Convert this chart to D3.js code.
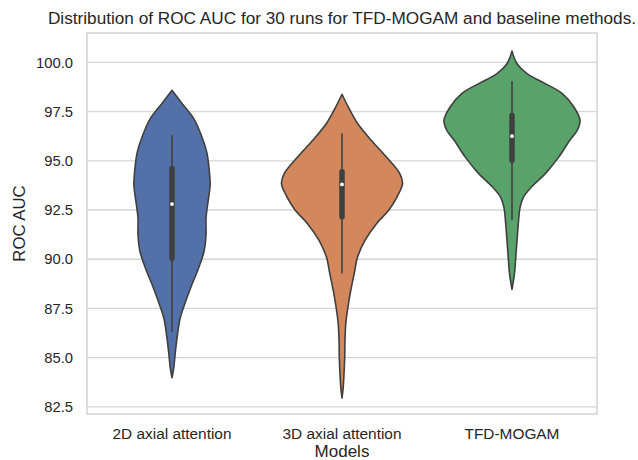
<!DOCTYPE html>
<html>
<head>
<meta charset="utf-8">
<script src="https://cdn.jsdelivr.net/npm/d3@7"></script>
<style>
  body { margin: 0; background: #fff; }
  text { font-family: "Liberation Sans", Arial, sans-serif; fill: #262626; }
</style>
</head>
<body>
<script>
// categories + colours
var models = ["2D axial attention", "3D axial attention", "TFD-MOGAM"];
var colors = ["#5371a8", "#d2885c", "#59a36b"];
var yTicks = [82.5, 85.0, 87.5, 90.0, 92.5, 95.0, 97.5, 100.0];

// kde profiles: [ROC AUC, relative density]
var kde2d = [[98.58,0],[97.99,0.13],[97.14,0.32],[96.3,0.43],[95.45,0.51],[94.44,0.55],[93.76,0.56],
  [92.92,0.53],[92.07,0.50],[91.23,0.50],[90.38,0.47],[89.54,0.39],[88.69,0.29],[87.85,0.20],
  [87.0,0.12],[86.16,0.08],[85.3,0.05],[84.47,0.025],[83.98,0]];
var kde3d = [[98.38,0],[97.73,0.093],[96.89,0.23],[96.04,0.43],[95.2,0.65],[94.35,0.85],[93.85,0.89],
  [93.17,0.81],[92.5,0.69],[91.82,0.51],[90.97,0.34],[90.13,0.23],[89.28,0.18],[88.44,0.13],
  [87.59,0.088],[86.75,0.056],[85.9,0.044],[85.06,0.04],[84.21,0.03],[83.37,0.015],[82.95,0]];
var kdeTfd = [[100.57,0],[99.93,0.074],[99.43,0.22],[98.92,0.49],[98.41,0.74],[97.73,0.91],[97.06,1.0],
  [96.55,0.96],[96.04,0.85],[95.2,0.69],[94.35,0.49],[93.68,0.29],[93.17,0.17],[92.66,0.12],
  [91.82,0.093],[90.97,0.074],[90.13,0.056],[89.28,0.037],[88.47,0]];
var profiles = [kde2d, kde3d, kdeTfd];

// box stats: whisker low, q1, median, q3, whisker high
var whiskLo = [86.32, 89.28, 91.99];
var q1 = [90.05, 92.16, 95.03];
var medians = [92.80, 93.80, 96.25];
var q3 = [94.61, 94.44, 97.31];
var whiskHi = [96.30, 96.38, 99.05];

var W = 638, H = 460;
var margin = {top: 33, right: 41, bottom: 46, left: 87};
var iw = W - margin.left - margin.right, ih = H - margin.top - margin.bottom;

var svg = d3.select("body").append("svg").attr("width", W).attr("height", H);
var g = svg.append("g").attr("transform", "translate(" + margin.left + "," + margin.top + ")");

var x = d3.scaleBand().domain(models).range([0, iw]).padding(0);
var y = d3.scaleLinear().domain([82.14, 101.49]).range([ih, 0]);
var wScale = d3.scaleLinear().domain([0, 1]).range([0, x.bandwidth() * 0.4]);

// grid
g.selectAll("line.grid").data(yTicks).enter().append("line")
  .attr("class", "grid")
  .attr("x1", 0).attr("x2", iw)
  .attr("y1", function(d) { return y(d); }).attr("y2", function(d) { return y(d); })
  .attr("stroke", "#d6d6d6").attr("stroke-width", 1.3);

// frame
g.append("rect").attr("width", iw).attr("height", ih)
  .attr("fill", "none").attr("stroke", "#cccccc").attr("stroke-width", 1.3);

// y axis labels
var yAxis = g.append("g").call(d3.axisLeft(y).tickValues(yTicks).tickFormat(d3.format(".1f")).tickSize(0).tickPadding(14));
yAxis.select(".domain").remove();
yAxis.selectAll("text").style("font-size", "14.8px").attr("fill", "#262626")
  .style("font-family", "'Liberation Sans', Arial, sans-serif");

// x axis labels
var xAxis = g.append("g").attr("transform", "translate(0," + ih + ")")
  .call(d3.axisBottom(x).tickSize(0).tickPadding(14));
xAxis.select(".domain").remove();
xAxis.selectAll("text").style("font-size", "15.4px").attr("fill", "#262626")
  .style("font-family", "'Liberation Sans', Arial, sans-serif");

// violins
models.forEach(function(m, i) {
  var cx = x(m) + x.bandwidth() / 2;
  var area = d3.area()
    .y(function(d) { return y(d[0]); })
    .x0(function(d) { return cx - wScale(d[1]); })
    .x1(function(d) { return cx + wScale(d[1]); })
    .curve(d3.curveCatmullRom);
  g.append("path").datum(profiles[i])
    .attr("d", area)
    .attr("fill", colors[i])
    .attr("stroke", "#3f3f3f").attr("stroke-width", 1.6)
    .attr("stroke-linejoin", "round");

  // whisker line
  g.append("line")
    .attr("x1", cx).attr("x2", cx)
    .attr("y1", y(whiskLo[i])).attr("y2", y(whiskHi[i]))
    .attr("stroke", "#3f3f3f").attr("stroke-width", 1.6);
  // box
  g.append("line")
    .attr("x1", cx).attr("x2", cx)
    .attr("y1", y(q1[i])).attr("y2", y(q3[i]))
    .attr("stroke", "#3f3f3f").attr("stroke-width", 5.5)
    .attr("stroke-linecap", "round");
  // median
  g.append("circle").attr("cx", cx).attr("cy", y(medians[i])).attr("r", 1.9).attr("fill", "#fff");
});

// titles
svg.append("text")
  .attr("x", margin.left + iw / 2).attr("y", 24)
  .attr("text-anchor", "middle").style("font-size", "17.2px")
  .text("Distribution of ROC AUC for 30 runs for TFD-MOGAM and baseline methods.");

svg.append("text")
  .attr("x", margin.left + iw / 2).attr("y", 457)
  .attr("text-anchor", "middle").style("font-size", "17px")
  .text("Models");

svg.append("text")
  .attr("transform", "translate(25," + (margin.top + ih / 2) + ") rotate(-90)")
  .attr("text-anchor", "middle").style("font-size", "16.8px")
  .text("ROC AUC");
</script>
</body>
</html>
